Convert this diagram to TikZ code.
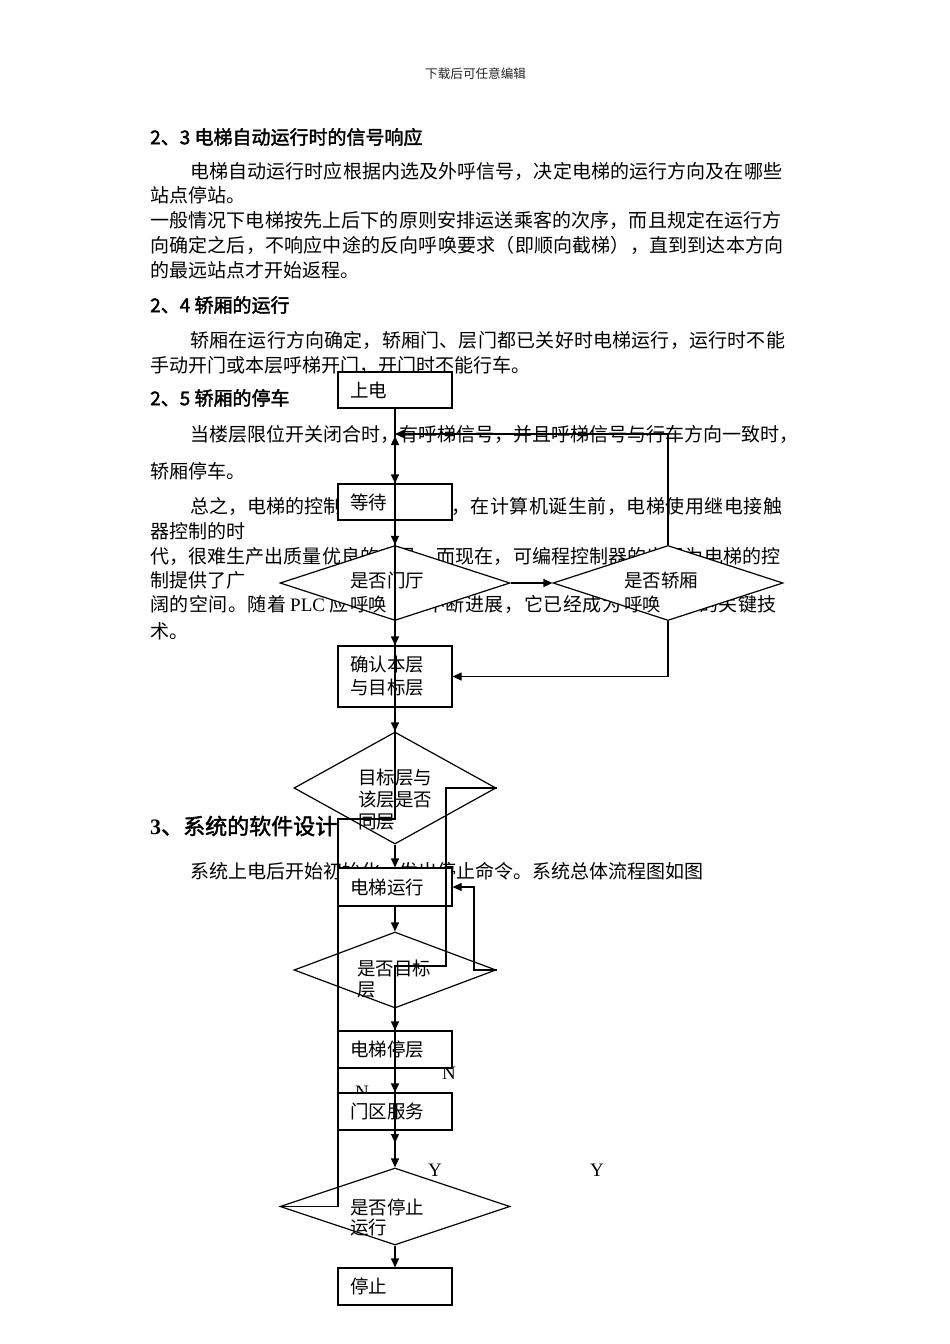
\documentclass[tikz,border=0pt]{standalone}
\usepackage{fontspec}
\usetikzlibrary{shapes.geometric,arrows.meta}
\newfontfamily\cjk{Noto Sans CJK SC}
\newfontfamily\cjkb[FakeBold=2]{Noto Sans CJK SC}
\newfontfamily\lat{Liberation Serif}
\newdimen\cjkgap \cjkgap=0pt
\newcount\mycnt
\XeTeXinterchartokenstate=1
\mycnt="3000 \loop \XeTeXcharclass\mycnt=1 \advance\mycnt by 1 \ifnum\mycnt<"3040 \repeat
\mycnt="4E00 \loop \XeTeXcharclass\mycnt=1 \advance\mycnt by 1 \ifnum\mycnt<"A000 \repeat
\mycnt="FF00 \loop \XeTeXcharclass\mycnt=1 \advance\mycnt by 1 \ifnum\mycnt<"FFF0 \repeat
\XeTeXinterchartoks 1 1 = {\hskip\cjkgap\relax}
\tikzset{
  txt/.style={inner sep=0pt, anchor=west, font={\cjk\fontsize{19}{19}\selectfont\cjkgap=#1pt\relax}},
  txt/.default=0,
  head/.style={inner sep=0pt, anchor=west, font={\cjkb\fontsize{19}{19}\selectfont}},
  boxn/.style={draw, fill=white, line width=1.2pt, minimum width=114pt, text width=90pt,
    inner xsep=12pt, inner ysep=0pt, align=left, font={\cjk\fontsize{18.5}{23}\selectfont}},
  dia/.style={draw, fill=white, line width=1.2pt, diamond, inner sep=0pt},
  dtxt/.style={inner sep=0pt, anchor=west, align=left, font={\cjk\fontsize{18.5}{#1}\selectfont}},
  arr/.style={line width=1.2pt, -{Triangle[length=9pt,width=8pt]}},
  ln/.style={line width=1.2pt},
  lab/.style={inner sep=0pt, font={\lat\fontsize{19}{19}\selectfont}},
}
\begin{document}
\begin{tikzpicture}[x=1pt,y=-1pt]
\fill[white] (0,0) rectangle (950,1344);
\useasboundingbox (0,0) rectangle (950,1344);

% page text
\node[inner sep=0pt, anchor=west, font={\cjk\fontsize{12.6}{12.6}\selectfont}, text=black!85] (hdr) at (425,74) {下载后可任意编辑};
\node[head] (h23) at (150,137) {2、3 电梯自动运行时的信号响应};
\node[txt=0.1] (t1) at (190,171) {电梯自动运行时应根据内选及外呼信号，决定电梯的运行方向及在哪些};
\node[txt] (t2) at (150,195) {站点停站。};
\node[txt=0.15] (t3) at (150,220) {一般情况下电梯按先上后下的原则安排运送乘客的次序，而且规定在运行方};
\node[txt=0.2] (t4) at (150,245) {向确定之后，不响应中途的反向呼唤要求（即顺向截梯），直到到达本方向};
\node[txt] (t5) at (150,270) {的最远站点才开始返程。};
\node[head] (h24) at (150,305) {2、4 轿厢的运行};
\node[txt=0.2] (t6) at (190,340) {轿厢在运行方向确定，轿厢门、层门都已关好时电梯运行，运行时不能};
\node[txt] (t7) at (150,365) {手动开门或本层呼梯开门，开门时不能行车。};
\node[head] (h25) at (150,398) {2、5 轿厢的停车};
\node[txt] (t8) at (190,434) {当楼层限位开关闭合时，有呼梯信号，并且呼梯信号与行车方向一致时，};
\node[txt] (t9) at (150,471) {轿厢停车。};
\node[txt] (t10a) at (190,506) {总之，电梯的控制};
\node[txt=0.5] (t10b) at (451,506) {，在计算机诞生前，电梯使用继电接触};
\node[txt] (t11) at (150,531) {器控制的时};
\node[txt=0.1] (t12) at (150,556) {代，很难生产出质量优良的产品，而现在，可编程控制器的出现为电梯的控};
\node[txt] (t13) at (150,580) {制提供了广};
\node[txt=0.5] (t14a) at (150,604) {阔的空间。随着\hspace{4pt}{\lat PLC}\hspace{4pt}应};
\node[txt=0.6] (t14b) at (426,604) {不断进展，它已经成为};
\node[txt=0.6] (t14c) at (699,604) {的关键技};
\node[txt] (t15) at (150,631) {术。};
\node[inner sep=0pt, anchor=west] (h3) at (150,826) {{\lat\bfseries\fontsize{22}{22}\selectfont 3}{\cjkb\fontsize{22}{22}\selectfont 、系统的软件设计}};
\node[txt] (t16) at (190,871) {系统上电后开始初始化，发出停止命令。系统总体流程图如图};

% labels lying under boxes
\node[lab] (n1) at (449,1073) {N};
\node[lab] (n2) at (362,1092) {N};

% boxes
\node[boxn, minimum height=36pt] (pwr) at (395,390) {上电};
\node[boxn, minimum height=36pt] (wait) at (395,502) {等待};
\node[boxn, minimum height=61pt] (conf) at (395,676.5) {确认本层\\与目标层};
\node[boxn, minimum height=38pt] (run) at (395,887) {电梯运行};
\node[boxn, minimum height=37pt] (stopfl) at (395,1049.5) {电梯停层};
\node[boxn, minimum height=37pt] (door) at (395,1111.5) {门区服务};
\node[boxn, minimum height=37pt] (stop) at (395,1286.5) {停止};

% diamonds
\node[dia, minimum width=230pt, minimum height=75pt] (hall) at (395,583) {};
\node[dia, minimum width=230pt, minimum height=75pt] (car) at (668,583) {};
\node[dia, minimum width=202pt, minimum height=112pt] (same) at (395,788) {};
\node[dia, minimum width=202pt, minimum height=76pt] (tgt) at (395,970) {};
\node[dia, minimum width=230pt, minimum height=77pt] (endq) at (395,1206.5) {};
\node[dtxt=24] (hallt) at (350,592) {是否门厅\\呼唤};
\node[dtxt=24] (cart) at (624,592) {是否轿厢\\呼唤};
\node[dtxt=22] (samet) at (358,800) {目标层与\\该层是否\\同层};
\node[dtxt=21] (tgtt) at (357,979.5) {是否目标\\层};
\node[dtxt=20] (endqt) at (350,1217) {是否停止\\运行};

% junctions
\coordinate (j1) at (395,434);
\coordinate (j2) at (395,436);
\coordinate (l1) at (338,1206.5);
\coordinate (l2) at (338,819);
\coordinate (l3) at (395,819);
\coordinate (r1) at (446,788);
\coordinate (r2) at (446,966);
\coordinate (r3) at (395,966);
\coordinate (r4) at (395,1143);
\coordinate (q1) at (474,970);

% connectors
\draw[arr] (pwr) -- (wait);
\draw[arr] (wait) -- (hall);
\draw[arr] (hall) -- (conf);
\draw[arr] (conf) -- (same);
\draw[arr] (same) -- (run);
\draw[arr] (run) -- (tgt);
\draw[arr] (tgt) -- (stopfl);
\draw[arr] (stopfl) -- (door);
\draw[arr] (door) -- (endq);
\draw[arr] (endq) -- (stop);
\draw[arr] (hall.east) -- (car.west);
\draw[arr] (car.north) |- (j1);
\draw[arr] (car.south) |- (conf.east);
\draw[arr] (endq.west) -- (l1) -- (l2) -- (l3) -- (j2);
\draw[arr] (same.east) -- (r1) -- (r2) -- (r3) -- (r4);
\draw[arr] (tgt.east) -- (q1) |- (run.east);

% labels
\node[lab] (y1) at (435,1170) {Y};
\node[lab] (y2) at (597,1170) {Y};
\end{tikzpicture}
\end{document}
